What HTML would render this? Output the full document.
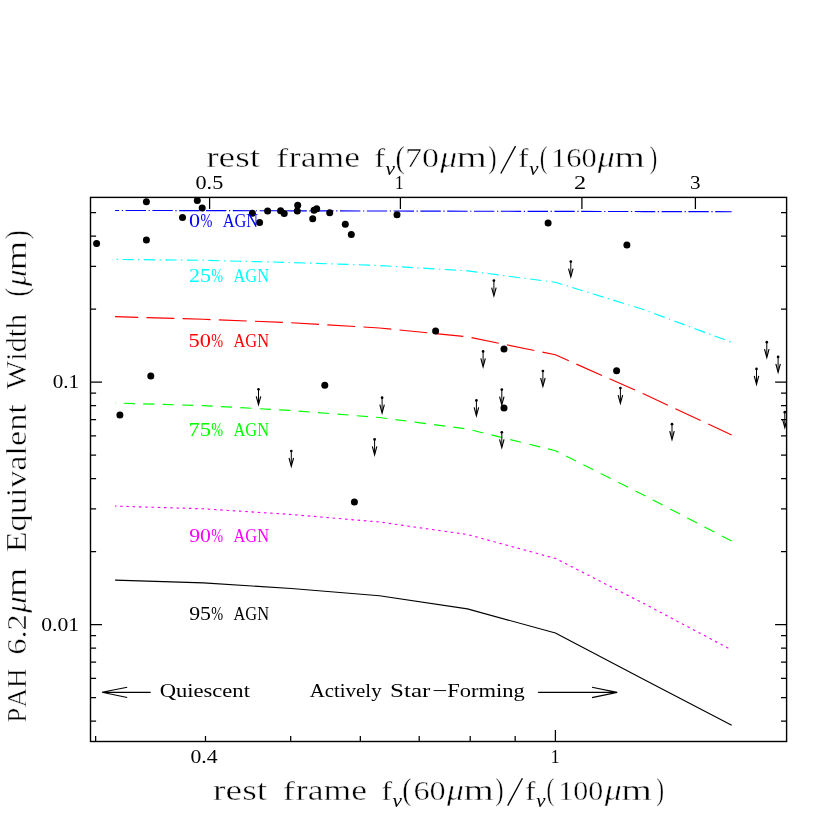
<!DOCTYPE html>
<html><head><meta charset="utf-8"><title>PAH EW vs FIR colour</title>
<style>html,body{margin:0;padding:0;background:#fff;}svg{display:block;will-change:transform;}text{font-family:"Liberation Serif",serif;font-kerning:none;}.t{stroke:#fff;stroke-width:.45px;}</style></head><body>
<svg width="830" height="830" viewBox="0 0 830 830">
<rect x="0" y="0" width="830" height="830" fill="#fff"/>
<defs><clipPath id="pc"><rect x="90.5" y="197.4" width="696.1" height="544.1"/></clipPath></defs>
<path d="M90.5 382.00h11.5M786.6 382.00h-11.5M90.5 624.50h11.5M786.6 624.50h-11.5M90.5 212.50h5.6M786.6 212.50h-5.6M90.5 236.00h5.6M786.6 236.00h-5.6M90.5 266.30h5.6M786.6 266.30h-5.6M90.5 309.00h5.6M786.6 309.00h-5.6M90.5 393.10h5.6M786.6 393.10h-5.6M90.5 405.50h5.6M786.6 405.50h-5.6M90.5 419.56h5.6M786.6 419.56h-5.6M90.5 435.80h5.6M786.6 435.80h-5.6M90.5 455.00h5.6M786.6 455.00h-5.6M90.5 478.50h5.6M786.6 478.50h-5.6M90.5 508.80h5.6M786.6 508.80h-5.6M90.5 551.50h5.6M786.6 551.50h-5.6M90.5 635.60h5.6M786.6 635.60h-5.6M90.5 648.00h5.6M786.6 648.00h-5.6M90.5 662.06h5.6M786.6 662.06h-5.6M90.5 678.30h5.6M786.6 678.30h-5.6M90.5 697.50h5.6M786.6 697.50h-5.6M90.5 721.00h5.6M786.6 721.00h-5.6M95.63 741.5v-5.6M205.49 741.5v-5.6M290.70 741.5v-5.6M360.33 741.5v-5.6M419.19 741.5v-5.6M470.19 741.5v-5.6M515.17 741.5v-5.6M555.40 741.5v-11.5M209.60 197.4v11.5M400.40 197.4v11.5M581.90 197.4v11.5M695.40 197.4v11.5" stroke="#000" stroke-width="1.25" fill="none"/>
<path d="M115.1 210.45L203.4 210.60L291.4 210.80L379.4 211.00L467.4 211.20L555.4 211.40L643.4 211.55L731.7 211.70" stroke="#0000ff" stroke-width="1.15" fill="none" stroke-linejoin="round" stroke-dasharray="20.4 2.6 1.2 2.6" stroke-dashoffset="16.3"/>
<path d="M115.1 259.40L203.4 260.30L291.4 262.50L379.4 265.50L467.4 270.90L555.4 282.30L643.4 309.50L731.7 342.30" stroke="#00ffff" stroke-width="1.15" fill="none" stroke-linejoin="round" stroke-dasharray="11.2 4.5 1.3 4.5" stroke-dashoffset="14.2"/>
<path d="M115.1 316.60L203.4 319.30L291.4 322.70L379.4 328.00L467.4 336.80L555.4 354.80L643.4 393.80L731.7 435.10" stroke="#ff0000" stroke-width="1.15" fill="none" stroke-linejoin="round" stroke-dasharray="27.9 8.3" stroke-dashoffset="4.8"/>
<path d="M115.1 403.00L203.4 405.60L291.4 410.50L379.4 417.50L467.4 429.00L555.4 450.70L643.4 495.00L731.7 541.10" stroke="#00ff00" stroke-width="1.15" fill="none" stroke-linejoin="round" stroke-dasharray="11.2 8.25" stroke-dashoffset="10.8"/>
<path d="M115.1 506.10L203.4 508.80L291.4 514.50L379.4 522.00L467.4 534.50L555.4 558.40L643.4 603.30L731.7 650.00" stroke="#ff00ff" stroke-width="1.15" fill="none" stroke-linejoin="round" stroke-dasharray="2.5 3.76" stroke-dashoffset="1.2"/>
<path d="M115.1 580.10L203.4 582.90L291.4 588.50L379.4 595.70L467.4 608.90L555.4 633.00L643.4 679.30L731.7 725.20" stroke="#000000" stroke-width="1.15" fill="none" stroke-linejoin="round"/>
<g fill="#000" clip-path="url(#pc)">
<circle cx="96.6" cy="243.5" r="3.5"/>
<circle cx="146.4" cy="201.7" r="3.5"/>
<circle cx="146.4" cy="239.9" r="3.5"/>
<circle cx="182.5" cy="217.6" r="3.5"/>
<circle cx="197.3" cy="200.6" r="3.5"/>
<circle cx="202.2" cy="208.0" r="3.5"/>
<circle cx="252.4" cy="213.2" r="3.5"/>
<circle cx="259.6" cy="222.4" r="3.5"/>
<circle cx="267.6" cy="211.0" r="3.5"/>
<circle cx="280.6" cy="210.7" r="3.5"/>
<circle cx="284.2" cy="213.6" r="3.5"/>
<circle cx="297.7" cy="205.2" r="3.5"/>
<circle cx="297.3" cy="210.9" r="3.5"/>
<circle cx="312.7" cy="218.8" r="3.5"/>
<circle cx="314.0" cy="210.2" r="3.5"/>
<circle cx="316.7" cy="208.7" r="3.5"/>
<circle cx="329.7" cy="212.7" r="3.5"/>
<circle cx="345.3" cy="224.2" r="3.5"/>
<circle cx="351.3" cy="234.6" r="3.5"/>
<circle cx="397.0" cy="214.8" r="3.5"/>
<circle cx="435.6" cy="331.0" r="3.5"/>
<circle cx="324.8" cy="385.3" r="3.5"/>
<circle cx="150.8" cy="375.9" r="3.5"/>
<circle cx="119.9" cy="415.1" r="3.5"/>
<circle cx="354.4" cy="502.0" r="3.5"/>
<circle cx="504.0" cy="349.0" r="3.5"/>
<circle cx="504.0" cy="408.1" r="3.5"/>
<circle cx="548.1" cy="223.0" r="3.5"/>
<circle cx="626.9" cy="244.9" r="3.5"/>
<circle cx="616.6" cy="370.7" r="3.5"/>
</g>
<g clip-path="url(#pc)">
<path d="M570.8 261.6v14.600000000000001M493.9 280.6v14.600000000000001M483.1 351.4v14.600000000000001M542.9 371.0v14.600000000000001M766.8 342.2v14.600000000000001M778.1 356.9v14.600000000000001M756.5 368.9v14.600000000000001M258.5 389.3v14.600000000000001M382.1 397.7v14.600000000000001M374.6 439.4v14.600000000000001M291.3 451.0v14.600000000000001M476.4 400.4v14.600000000000001M501.8 389.6v14.600000000000001M501.8 432.3v14.600000000000001M620.4 388.1v14.600000000000001M672.0 424.2v14.600000000000001M784.8 412.2v14.600000000000001" stroke="#000" stroke-width="1.0" fill="none"/>
<path d="M568.55 268.6L570.8 276.9L573.05 268.6M491.65 287.6L493.9 295.9L496.15 287.6M480.85 358.4L483.1 366.7L485.35 358.4M540.65 378.0L542.9 386.3L545.15 378.0M764.55 349.2L766.8 357.5L769.05 349.2M775.85 363.9L778.1 372.2L780.35 363.9M754.25 375.9L756.5 384.2L758.75 375.9M256.25 396.3L258.5 404.6L260.75 396.3M379.85 404.7L382.1 413.0L384.35 404.7M372.35 446.4L374.6 454.7L376.85 446.4M289.05 458.0L291.3 466.3L293.55 458.0M474.15 407.4L476.4 415.7L478.65 407.4M499.55 396.6L501.8 404.9L504.05 396.6M499.55 439.3L501.8 447.6L504.05 439.3M618.15 395.1L620.4 403.4L622.65 395.1M669.75 431.2L672.0 439.5L674.25 431.2M782.55 419.2L784.8 427.5L787.05 419.2" stroke="#000" stroke-width="1.15" fill="none" stroke-linejoin="miter" stroke-miterlimit="10"/>
<circle cx="570.8" cy="261.6" r="1.35" fill="#000"/>
<circle cx="493.9" cy="280.6" r="1.35" fill="#000"/>
<circle cx="483.1" cy="351.4" r="1.35" fill="#000"/>
<circle cx="542.9" cy="371.0" r="1.35" fill="#000"/>
<circle cx="766.8" cy="342.2" r="1.35" fill="#000"/>
<circle cx="778.1" cy="356.9" r="1.35" fill="#000"/>
<circle cx="756.5" cy="368.9" r="1.35" fill="#000"/>
<circle cx="258.5" cy="389.3" r="1.35" fill="#000"/>
<circle cx="382.1" cy="397.7" r="1.35" fill="#000"/>
<circle cx="374.6" cy="439.4" r="1.35" fill="#000"/>
<circle cx="291.3" cy="451.0" r="1.35" fill="#000"/>
<circle cx="476.4" cy="400.4" r="1.35" fill="#000"/>
<circle cx="501.8" cy="389.6" r="1.35" fill="#000"/>
<circle cx="501.8" cy="432.3" r="1.35" fill="#000"/>
<circle cx="620.4" cy="388.1" r="1.35" fill="#000"/>
<circle cx="672.0" cy="424.2" r="1.35" fill="#000"/>
<circle cx="784.8" cy="412.2" r="1.35" fill="#000"/>
</g>
<rect x="90.5" y="197.4" width="696.1" height="544.1" fill="none" stroke="#000" stroke-width="1.4"/>
<text x="195.56" y="188.70" font-size="19.4" textLength="27.71" lengthAdjust="spacingAndGlyphs">0.5</text>
<text x="395.10" y="188.70" font-size="19.4" textLength="8.52" lengthAdjust="spacingAndGlyphs">1</text>
<text x="573.94" y="188.70" font-size="19.4" textLength="12.10" lengthAdjust="spacingAndGlyphs">2</text>
<text x="690.09" y="188.70" font-size="19.4" textLength="10.53" lengthAdjust="spacingAndGlyphs">3</text>
<text x="190.47" y="763.00" font-size="19.4" textLength="27.17" lengthAdjust="spacingAndGlyphs">0.4</text>
<text x="550.75" y="763.00" font-size="19.4" textLength="8.81" lengthAdjust="spacingAndGlyphs">1</text>
<text x="52.69" y="388.00" font-size="19.4" textLength="26.48" lengthAdjust="spacingAndGlyphs">0.1</text>
<text x="41.17" y="630.90" font-size="19.4" textLength="37.93" lengthAdjust="spacingAndGlyphs">0.01</text>
<text x="189.06" y="226.60" font-size="19.4" textLength="11.09" lengthAdjust="spacingAndGlyphs" fill="#0000ff">0</text>
<text x="200.41" y="226.60" font-size="19.4" textLength="11.87" lengthAdjust="spacingAndGlyphs" fill="#0000ff">%</text>
<text x="222.64" y="226.60" font-size="19.4" textLength="35.54" lengthAdjust="spacingAndGlyphs" fill="#0000ff">AGN</text>
<text x="188.93" y="281.60" font-size="19.4" textLength="22.03" lengthAdjust="spacingAndGlyphs" fill="#00ffff">25</text>
<text x="211.21" y="281.60" font-size="19.4" textLength="11.87" lengthAdjust="spacingAndGlyphs" fill="#00ffff">%</text>
<text x="233.44" y="281.60" font-size="19.4" textLength="35.54" lengthAdjust="spacingAndGlyphs" fill="#00ffff">AGN</text>
<text x="188.60" y="347.10" font-size="19.4" textLength="22.35" lengthAdjust="spacingAndGlyphs" fill="#ff0000">50</text>
<text x="211.21" y="347.10" font-size="19.4" textLength="11.87" lengthAdjust="spacingAndGlyphs" fill="#ff0000">%</text>
<text x="233.44" y="347.10" font-size="19.4" textLength="35.54" lengthAdjust="spacingAndGlyphs" fill="#ff0000">AGN</text>
<text x="188.41" y="436.20" font-size="19.4" textLength="22.57" lengthAdjust="spacingAndGlyphs" fill="#00ff00">75</text>
<text x="211.21" y="436.20" font-size="19.4" textLength="11.87" lengthAdjust="spacingAndGlyphs" fill="#00ff00">%</text>
<text x="233.44" y="436.20" font-size="19.4" textLength="35.54" lengthAdjust="spacingAndGlyphs" fill="#00ff00">AGN</text>
<text x="189.20" y="541.80" font-size="19.4" textLength="21.73" lengthAdjust="spacingAndGlyphs" fill="#ff00ff">90</text>
<text x="211.21" y="541.80" font-size="19.4" textLength="11.87" lengthAdjust="spacingAndGlyphs" fill="#ff00ff">%</text>
<text x="233.44" y="541.80" font-size="19.4" textLength="35.54" lengthAdjust="spacingAndGlyphs" fill="#ff00ff">AGN</text>
<text x="189.20" y="619.60" font-size="19.4" textLength="21.75" lengthAdjust="spacingAndGlyphs">95</text>
<text x="211.21" y="619.60" font-size="19.4" textLength="11.87" lengthAdjust="spacingAndGlyphs">%</text>
<text x="233.44" y="619.60" font-size="19.4" textLength="35.54" lengthAdjust="spacingAndGlyphs">AGN</text>
<text x="159.67" y="697.00" font-size="19.4" textLength="90.26" lengthAdjust="spacingAndGlyphs">Quiescent</text>
<text x="309.70" y="697.00" font-size="19.4" textLength="71.89" lengthAdjust="spacingAndGlyphs">Actively</text>
<text x="390.13" y="697.00" font-size="19.4" textLength="40.29" lengthAdjust="spacingAndGlyphs">Star</text>
<text x="432.26" y="697.00" font-size="19.4" textLength="15.15" lengthAdjust="spacingAndGlyphs">−</text>
<text x="447.15" y="697.00" font-size="19.4" textLength="77.58" lengthAdjust="spacingAndGlyphs">Forming</text>
<path d="M150.7 692.3H102.0M127.2 687.3L102.0 692.3L127.2 697.5M538.1 692.4H617.2M592 687.3L617.2 692.4L592 697.6" stroke="#000" stroke-width="1.15" fill="none"/>
<text x="206.15" y="167.40" font-size="29.6" textLength="54.07" lengthAdjust="spacingAndGlyphs" class="t">rest</text>
<text x="275.97" y="167.40" font-size="27.1" textLength="12.23" lengthAdjust="spacingAndGlyphs" class="t">f</text>
<text x="288.89" y="167.40" font-size="29.6" textLength="71.25" lengthAdjust="spacingAndGlyphs" class="t">rame</text>
<text x="374.29" y="167.40" font-size="26.5" textLength="10.91" lengthAdjust="spacingAndGlyphs" class="t">f</text>
<text x="385.61" y="175.30" font-size="19.0" textLength="9.39" lengthAdjust="spacingAndGlyphs" font-style="italic">ν</text>
<text x="395.45" y="168.30" font-size="32.0" textLength="9.47" lengthAdjust="spacingAndGlyphs" class="t">(</text>
<text x="404.96" y="167.40" font-size="28.2" textLength="33.93" lengthAdjust="spacingAndGlyphs" class="t">70</text>
<text x="440.23" y="167.40" font-size="29.6" textLength="16.78" lengthAdjust="spacingAndGlyphs" font-style="italic" class="t">μ</text>
<text x="456.79" y="167.40" font-size="29.6" textLength="30.01" lengthAdjust="spacingAndGlyphs" class="t">m</text>
<text x="488.30" y="168.30" font-size="32.0" textLength="8.30" lengthAdjust="spacingAndGlyphs" class="t">)</text>
<path d="M500.8 173.5L515.5 146.1" stroke="#000" stroke-width="1.35" fill="none"/>
<text x="518.01" y="167.40" font-size="26.5" textLength="10.69" lengthAdjust="spacingAndGlyphs" class="t">f</text>
<text x="529.32" y="175.30" font-size="19.0" textLength="9.18" lengthAdjust="spacingAndGlyphs" font-style="italic">ν</text>
<text x="539.66" y="168.30" font-size="32.0" textLength="7.91" lengthAdjust="spacingAndGlyphs" class="t">(</text>
<text x="551.01" y="167.40" font-size="28.2" textLength="45.85" lengthAdjust="spacingAndGlyphs" class="t">160</text>
<text x="597.83" y="167.40" font-size="29.6" textLength="16.99" lengthAdjust="spacingAndGlyphs" font-style="italic" class="t">μ</text>
<text x="614.37" y="167.40" font-size="29.6" textLength="30.64" lengthAdjust="spacingAndGlyphs" class="t">m</text>
<text x="649.45" y="168.30" font-size="32.0" textLength="7.78" lengthAdjust="spacingAndGlyphs" class="t">)</text>
<text x="213.05" y="799.50" font-size="29.6" textLength="54.07" lengthAdjust="spacingAndGlyphs" class="t">rest</text>
<text x="282.87" y="799.50" font-size="27.1" textLength="12.23" lengthAdjust="spacingAndGlyphs" class="t">f</text>
<text x="295.79" y="799.50" font-size="29.6" textLength="71.25" lengthAdjust="spacingAndGlyphs" class="t">rame</text>
<text x="381.19" y="799.50" font-size="26.5" textLength="10.91" lengthAdjust="spacingAndGlyphs" class="t">f</text>
<text x="392.51" y="807.40" font-size="19.0" textLength="9.39" lengthAdjust="spacingAndGlyphs" font-style="italic">ν</text>
<text x="402.35" y="800.40" font-size="32.0" textLength="9.47" lengthAdjust="spacingAndGlyphs" class="t">(</text>
<text x="413.41" y="799.50" font-size="28.2" textLength="32.32" lengthAdjust="spacingAndGlyphs" class="t">60</text>
<text x="447.13" y="799.50" font-size="29.6" textLength="16.78" lengthAdjust="spacingAndGlyphs" font-style="italic" class="t">μ</text>
<text x="463.69" y="799.50" font-size="29.6" textLength="30.01" lengthAdjust="spacingAndGlyphs" class="t">m</text>
<text x="495.20" y="800.40" font-size="32.0" textLength="8.30" lengthAdjust="spacingAndGlyphs" class="t">)</text>
<path d="M507.7 805.6L522.4 778.2" stroke="#000" stroke-width="1.35" fill="none"/>
<text x="524.91" y="799.50" font-size="26.5" textLength="10.69" lengthAdjust="spacingAndGlyphs" class="t">f</text>
<text x="536.22" y="807.40" font-size="19.0" textLength="9.18" lengthAdjust="spacingAndGlyphs" font-style="italic">ν</text>
<text x="546.56" y="800.40" font-size="32.0" textLength="7.91" lengthAdjust="spacingAndGlyphs" class="t">(</text>
<text x="558.26" y="799.50" font-size="28.2" textLength="44.98" lengthAdjust="spacingAndGlyphs" class="t">100</text>
<text x="604.73" y="799.50" font-size="29.6" textLength="16.99" lengthAdjust="spacingAndGlyphs" font-style="italic" class="t">μ</text>
<text x="621.27" y="799.50" font-size="29.6" textLength="30.64" lengthAdjust="spacingAndGlyphs" class="t">m</text>
<text x="656.35" y="800.40" font-size="32.0" textLength="7.78" lengthAdjust="spacingAndGlyphs" class="t">)</text>
<text transform="translate(25.60 722.68) rotate(-90)" font-size="28.2" textLength="54.17" lengthAdjust="spacingAndGlyphs" class="t">PAH</text>
<text transform="translate(25.60 654.80) rotate(-90)" font-size="28.2" textLength="40.59" lengthAdjust="spacingAndGlyphs" class="t">6.2</text>
<text transform="translate(25.60 612.97) rotate(-90)" font-size="29.6" textLength="16.78" lengthAdjust="spacingAndGlyphs" font-style="italic" class="t">μ</text>
<text transform="translate(25.60 596.90) rotate(-90)" font-size="29.6" textLength="29.49" lengthAdjust="spacingAndGlyphs" class="t">m</text>
<text transform="translate(25.60 552.28) rotate(-90)" font-size="29.6" textLength="147.98" lengthAdjust="spacingAndGlyphs" class="t">Equivalent</text>
<text transform="translate(25.60 389.23) rotate(-90)" font-size="29.6" textLength="75.43" lengthAdjust="spacingAndGlyphs" class="t">Width</text>
<text transform="translate(26.50 296.43) rotate(-90)" font-size="32.0" textLength="8.56" lengthAdjust="spacingAndGlyphs" class="t">(</text>
<text transform="translate(25.60 286.27) rotate(-90)" font-size="29.6" textLength="16.78" lengthAdjust="spacingAndGlyphs" font-style="italic" class="t">μ</text>
<text transform="translate(25.60 270.20) rotate(-90)" font-size="29.6" textLength="29.49" lengthAdjust="spacingAndGlyphs" class="t">m</text>
<text transform="translate(26.50 238.94) rotate(-90)" font-size="32.0" textLength="8.69" lengthAdjust="spacingAndGlyphs" class="t">)</text>
</svg></body></html>
